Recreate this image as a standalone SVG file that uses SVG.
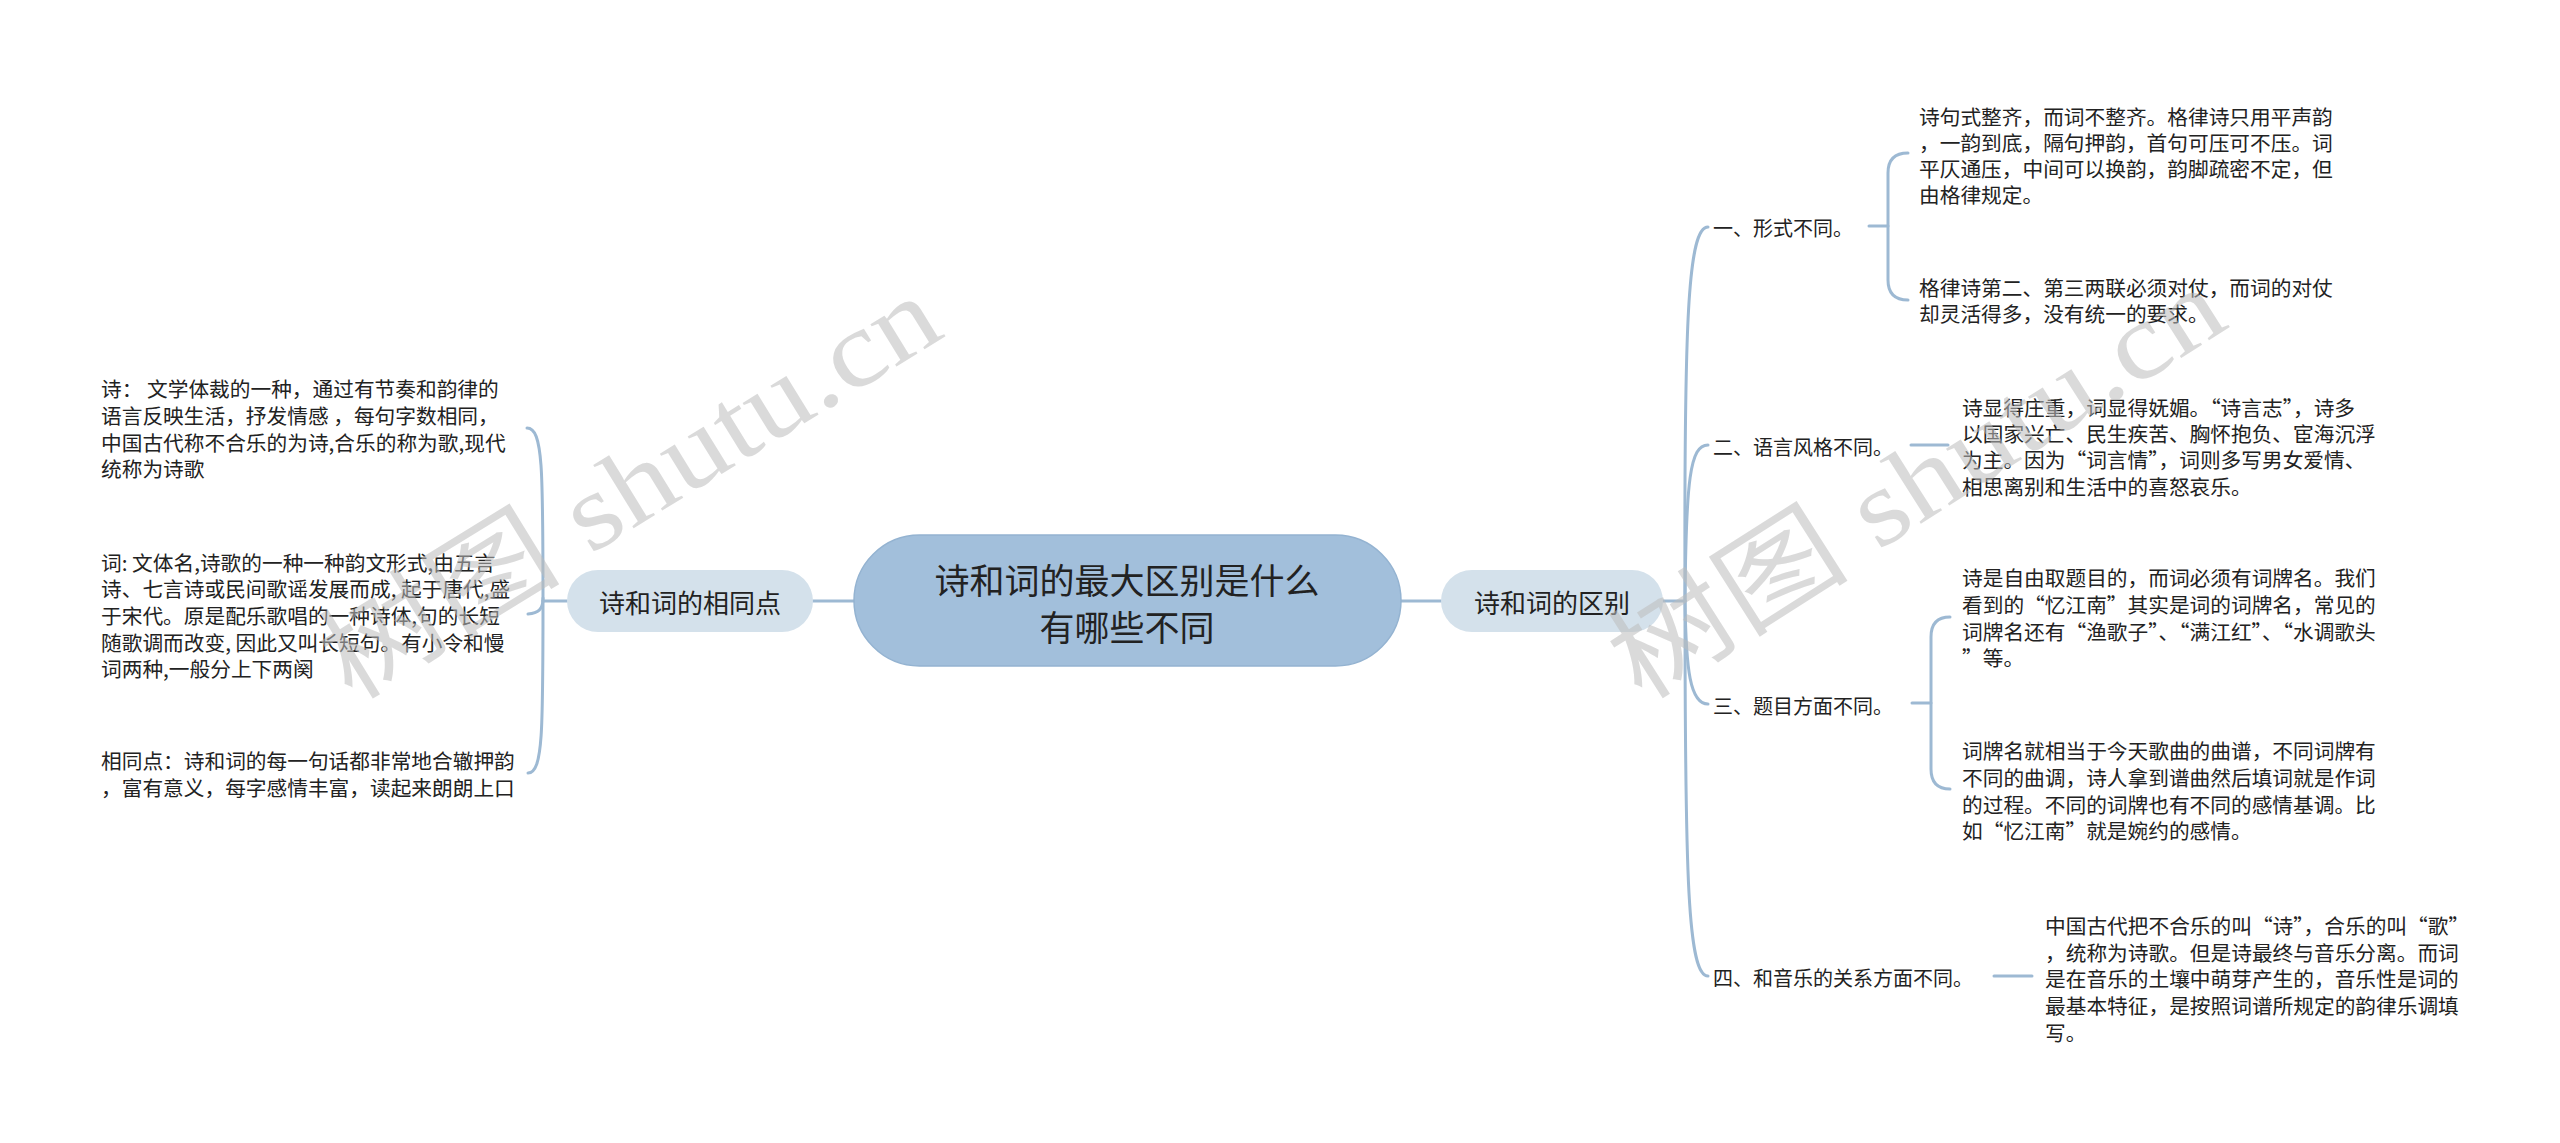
<svg xmlns="http://www.w3.org/2000/svg" width="2560" height="1143" viewBox="0 0 2560 1143">
<style>
.t{font-family:"Noto Sans CJK SC","Noto Sans",sans-serif;fill:#222;dominant-baseline:central}
.leaf{font-size:20.7px}
.br{font-size:20px}
.sub{font-size:26px;text-anchor:middle}
.root{font-size:35px;text-anchor:middle}
.c{fill:none;stroke:#9db9d3;stroke-width:3;stroke-linecap:round}
.wm{font-family:"Liberation Serif","Noto Sans CJK SC",serif;font-size:108px;fill:#bdbdbd;opacity:0.55}
</style>
<rect width="2560" height="1143" fill="#ffffff"/>
<g id="connectors">
<path class="c" d="M813,601 L854,601"/>
<path class="c" d="M1401,601 L1441,601"/>
<path class="c" d="M567,601 L543,601"/>
<path class="c" d="M543,601 C543,470 543,428 527,428"/>
<path class="c" d="M543,601 C543,730 543,773 528,773"/>
<path class="c" d="M543,598 C543,610 538,613 528,614"/>
<path class="c" d="M1663,601 L1685,601"/>
<path class="c" d="M1685,601 C1684,320 1688,227 1708,227"/>
<path class="c" d="M1685,601 C1685,880 1688,976 1708,976"/>
<path class="c" d="M1685,601 C1686,480 1690,445 1708,445"/>
<path class="c" d="M1685,601 C1686,670 1690,704 1708,704"/>
<path class="c" d="M1869,226 L1888,226"/>
<path class="c" d="M1908,153 Q1888,153 1888,173 L1888,280 Q1888,300 1908,300"/>
<path class="c" d="M1911,445 L1948,445"/>
<path class="c" d="M1912,703 L1931,703"/>
<path class="c" d="M1950,617 Q1931,617 1931,637 L1931,769 Q1931,789 1950,789"/>
<path class="c" d="M1994,976 L2032,976"/>
</g>
<g id="root">
<rect x="854" y="535" width="547" height="131" rx="65.5" fill="#a2bfdb" stroke="#94b3d1" stroke-width="1.5"/>
<text class="t root" x="1127" y="578">诗和词的最大区别是什么</text>
<text class="t root" x="1127" y="625">有哪些不同</text>
</g>
<g id="sub-left">
<rect x="567" y="570" width="246" height="62" rx="31" fill="#d4e1eb"/>
<text class="t sub" x="690" y="601">诗和词的相同点</text>
</g>
<g id="sub-right">
<rect x="1441" y="570" width="222" height="62" rx="31" fill="#d4e1eb"/>
<text class="t sub" x="1552" y="601">诗和词的区别</text>
</g>
<g id="leaf-shi">
<text class="t leaf" x="101" y="388">诗： 文学体裁的一种，通过有节奏和韵律的</text>
<text class="t leaf" x="101" y="415">语言反映生活，抒发情感 ，每句字数相同，</text>
<text class="t leaf" x="101" y="442">中国古代称不合乐的为诗,合乐的称为歌,现代</text>
<text class="t leaf" x="101" y="468">统称为诗歌</text>
</g>
<g id="leaf-ci">
<text class="t leaf" x="101" y="562">词: 文体名,诗歌的一种一种韵文形式,由五言</text>
<text class="t leaf" x="101" y="588">诗、七言诗或民间歌谣发展而成, 起于唐代,盛</text>
<text class="t leaf" x="101" y="615">于宋代。原是配乐歌唱的一种诗体,句的长短</text>
<text class="t leaf" x="101" y="642">随歌调而改变, 因此又叫长短句。有小令和慢</text>
<text class="t leaf" x="101" y="668">词两种,一般分上下两阕</text>
</g>
<g id="leaf-same">
<text class="t leaf" x="101" y="760">相同点：诗和词的每一句话都非常地合辙押韵</text>
<text class="t leaf" x="101" y="787">，富有意义，每字感情丰富，读起来朗朗上口</text>
</g>
<g id="branch-1">
<text class="t br" x="1713" y="227">一、形式不同。</text>
</g>
<g id="leaf-1a">
<text class="t leaf" x="1919" y="116">诗句式整齐，而词不整齐。格律诗只用平声韵</text>
<text class="t leaf" x="1919" y="142">，一韵到底，隔句押韵，首句可压可不压。词</text>
<text class="t leaf" x="1919" y="168">平仄通压，中间可以换韵，韵脚疏密不定，但</text>
<text class="t leaf" x="1919" y="194">由格律规定。</text>
</g>
<g id="leaf-1b">
<text class="t leaf" x="1919" y="287">格律诗第二、第三两联必须对仗，而词的对仗</text>
<text class="t leaf" x="1919" y="313">却灵活得多，没有统一的要求。</text>
</g>
<g id="branch-2">
<text class="t br" x="1713" y="446">二、语言风格不同。</text>
</g>
<g id="leaf-2">
<text class="t leaf" x="1962" y="407">诗显得庄重，词显得妩媚。“诗言志”，诗多</text>
<text class="t leaf" x="1962" y="433">以国家兴亡、民生疾苦、胸怀抱负、宦海沉浮</text>
<text class="t leaf" x="1962" y="459">为主。因为“词言情”，词则多写男女爱情、</text>
<text class="t leaf" x="1962" y="486">相思离别和生活中的喜怒哀乐。</text>
</g>
<g id="branch-3">
<text class="t br" x="1713" y="705">三、题目方面不同。</text>
</g>
<g id="leaf-3a">
<text class="t leaf" x="1962" y="577">诗是自由取题目的，而词必须有词牌名。我们</text>
<text class="t leaf" x="1962" y="604">看到的“忆江南”其实是词的词牌名，常见的</text>
<text class="t leaf" x="1962" y="631">词牌名还有“渔歌子”、“满江红”、“水调歌头</text>
<text class="t leaf" x="1962" y="657">”等。</text>
</g>
<g id="leaf-3b">
<text class="t leaf" x="1962" y="750">词牌名就相当于今天歌曲的曲谱，不同词牌有</text>
<text class="t leaf" x="1962" y="777">不同的曲调，诗人拿到谱曲然后填词就是作词</text>
<text class="t leaf" x="1962" y="804">的过程。不同的词牌也有不同的感情基调。比</text>
<text class="t leaf" x="1962" y="830">如“忆江南”就是婉约的感情。</text>
</g>
<g id="branch-4">
<text class="t br" x="1713" y="977">四、和音乐的关系方面不同。</text>
</g>
<g id="leaf-4">
<text class="t leaf" x="2045" y="925">中国古代把不合乐的叫“诗”，合乐的叫“歌”</text>
<text class="t leaf" x="2045" y="952">，统称为诗歌。但是诗最终与音乐分离。而词</text>
<text class="t leaf" x="2045" y="978">是在音乐的土壤中萌芽产生的，音乐性是词的</text>
<text class="t leaf" x="2045" y="1005">最基本特征，是按照词谱所规定的韵律乐调填</text>
<text class="t leaf" x="2045" y="1032">写。</text>
</g>
<g id="watermarks">
<text class="wm" x="351" y="702" transform="rotate(-31.6 351 702)" textLength="700" lengthAdjust="spacingAndGlyphs">树图 shutu.cn</text>
<text class="wm" x="1641" y="702" transform="rotate(-32.5 1641 702)" textLength="700" lengthAdjust="spacingAndGlyphs">树图 shutu.cn</text>
</g>
</svg>
